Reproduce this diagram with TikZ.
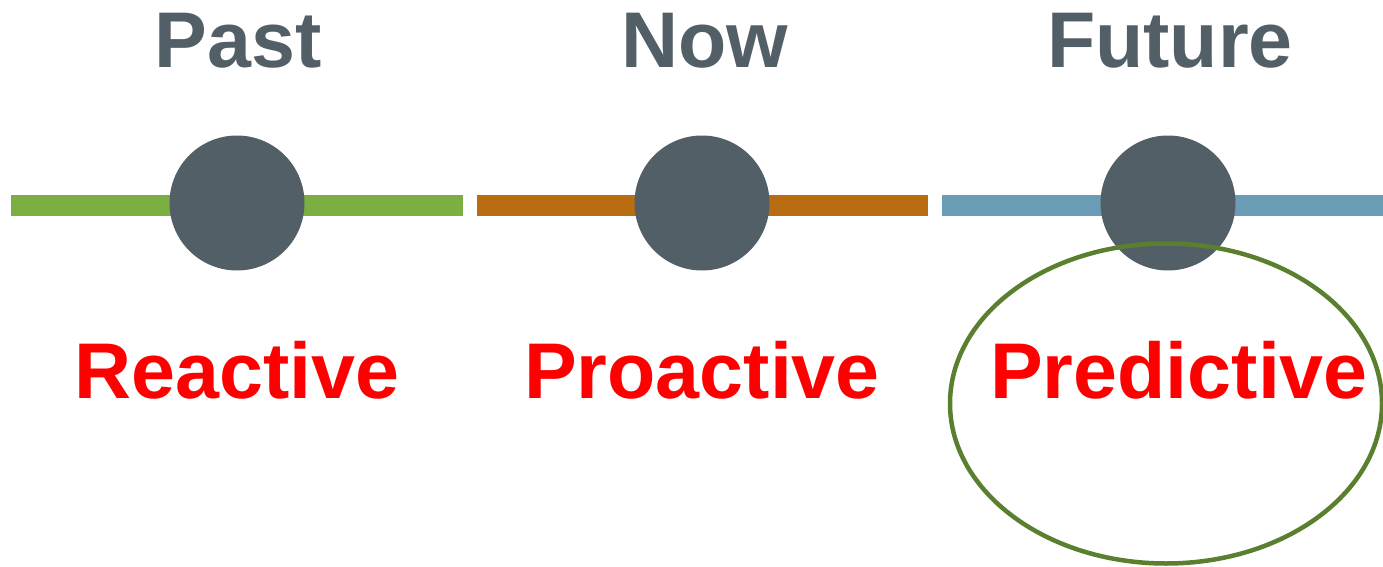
\documentclass[tikz,border=0pt]{standalone}
\usepackage{fontspec}
\setmainfont{Liberation Sans}
\begin{document}
\begin{tikzpicture}[x=1pt,y=-1pt,
  era/.style={font=\bfseries\fontsize{79}{79}\selectfont, text=eragray, anchor=base, inner sep=0pt},
  mode/.style={font=\bfseries\fontsize{79}{79}\selectfont, text=red, anchor=base, inner sep=0pt},
  dot/.style={circle, fill=eragray, minimum size=135pt, inner sep=0pt},
  bar/.style={line width=21.5pt}]
\definecolor{eragray}{HTML}{535F66}
\definecolor{bargreen}{HTML}{7CAF42}
\definecolor{barorange}{HTML}{B86D12}
\definecolor{barblue}{HTML}{6A9DB5}
\definecolor{ringgreen}{HTML}{5A7F2E}
\useasboundingbox (0,0) rectangle (1383,567);
% timeline segments
\coordinate (g1) at (11,205.7);  \coordinate (g2) at (463,205.7);
\coordinate (o1) at (477,205.7); \coordinate (o2) at (928,205.7);
\coordinate (b1) at (942,205.7); \coordinate (b2) at (1383,205.7);
\draw[bar, bargreen] (g1) -- (g2);
\draw[bar, barorange] (o1) -- (o2);
\draw[bar, barblue] (b1) -- (b2);
% milestones
\node[dot] (past) at (237,203) {};
\node[dot] (now) at (702,203) {};
\node[dot] (future) at (1168,203) {};
% headings
\node[era] (tpast) at (238,68) {Past};
\node[era] (tnow) at (705,68) {Now};
\node[era] (tfuture) at (1170,68) {Future};
% labels
\node[mode] (reactive) at (237,398) {Reactive};
\node[mode] (proactive) at (702,398) {Proactive};
\node[mode] (predictive) at (1179,398) {Predictive};
% highlight ring
\draw[ringgreen, line width=4.5pt] (1166,403.5) ellipse [x radius=216, y radius=160];
\end{tikzpicture}
\end{document}
